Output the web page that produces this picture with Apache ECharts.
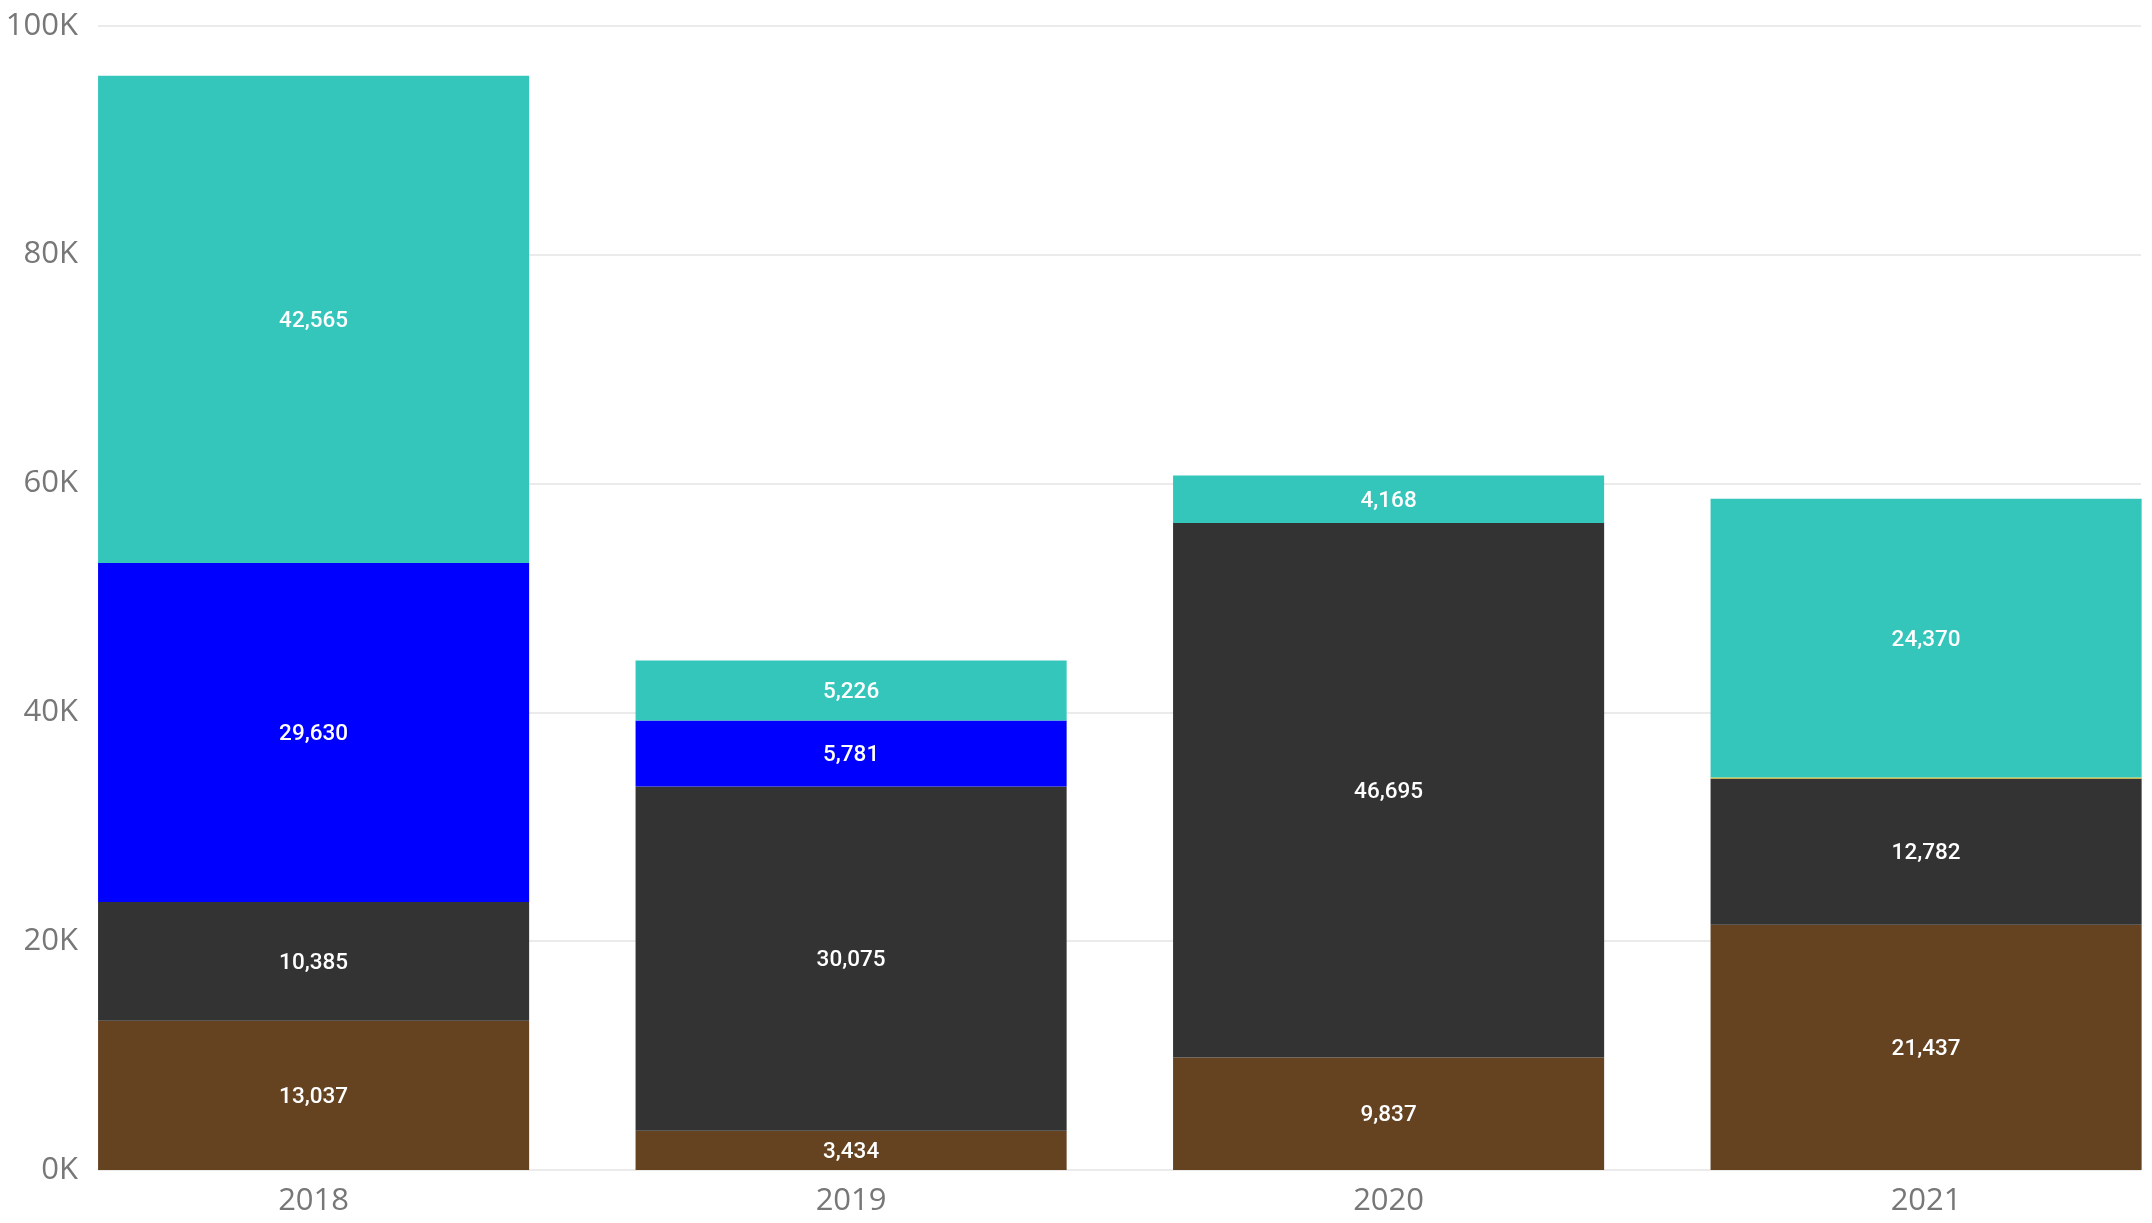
<!DOCTYPE html>
<html>
<head>
<meta charset="utf-8">
<style>
  html, body { margin: 0; padding: 0; background: #ffffff; }
  #chart { width: 2152px; height: 1223px; }
</style>
<script src="https://cdn.jsdelivr.net/npm/echarts@6/dist/echarts.min.js"></script>
</head>
<body>
<div id="chart"></div>
<script>
// Categories and stacked values (bottom to top)
const years = ['2018', '2019', '2020', '2021'];
const brownValues = [13037, 3434, 9837, 21437];
const darkValues = [10385, 30075, 46695, 12782];
const blueValues = [29630, 5781, null, null];
const yellowValues = [null, null, null, 80];
const tealValues = [42565, 5226, 4168, 24370];
const yTicks = [0, 20000, 40000, 60000, 80000, 100000];

const chart = echarts.init(document.getElementById('chart'));

const labelFont = "'DIN', Roboto, sans-serif";
const axisFont = "'Segoe UI', 'Open Sans', 'Noto Sans', sans-serif";

function stackSeries(name, values, color, showLabel) {
  return {
    name: name,
    type: 'bar',
    stack: 'total',
    xAxisIndex: 1,
    yAxisIndex: 1,
    barCategoryGap: '19.8%',
    itemStyle: { color: color },
    label: {
      show: showLabel,
      position: 'inside',
      offset: [0, 2],
      color: '#ffffff',
      fontFamily: labelFont,
      fontWeight: 500,
      fontSize: 22.5,
      formatter: p => (p.value == null ? '' : Number(p.value).toLocaleString('en-US'))
    },
    emphasis: { disabled: true },
    data: values
  };
}

chart.setOption({
  animation: false,
  backgroundColor: '#ffffff',
  grid: [
    // gridlines and value axis
    { left: 98, right: 11, top: 25.7, bottom: 53, outerBoundsMode: 'none' },
    // bars, extended so the outer bars reach the plot edges
    { left: 44.85, width: 2150, top: 25.7, bottom: 53, outerBoundsMode: 'none' }
  ],
  xAxis: [
    { gridIndex: 0, type: 'category', data: years, show: false },
    {
      gridIndex: 1,
      type: 'category',
      data: years,
      axisLine: { show: false },
      axisTick: { show: false },
      axisLabel: {
        color: '#777777',
        fontFamily: axisFont,
        fontSize: 31,
        margin: 16
      }
    }
  ],
  yAxis: [
    {
      gridIndex: 0,
      type: 'value',
      min: yTicks[0],
      max: yTicks[yTicks.length - 1],
      interval: yTicks[1] - yTicks[0],
      axisLine: { show: false },
      axisTick: { show: false },
      splitLine: { lineStyle: { color: '#ebebeb', width: 2 } },
      axisLabel: {
        color: '#777777',
        fontFamily: axisFont,
        fontSize: 31,
        margin: 20,
        formatter: v => (v / 1000) + 'K'
      }
    },
    {
      gridIndex: 1,
      type: 'value',
      min: yTicks[0],
      max: yTicks[yTicks.length - 1],
      interval: yTicks[1] - yTicks[0],
      show: false,
      splitLine: { show: false }
    }
  ],
  series: [
    stackSeries('Brown', brownValues, '#654321', true),
    stackSeries('Dark', darkValues, '#333333', true),
    stackSeries('Blue', blueValues, '#0000ff', true),
    stackSeries('Yellow', yellowValues, '#f2c80f', false),
    stackSeries('Teal', tealValues, '#34c6bb', true)
  ]
});
</script>
</body>
</html>
